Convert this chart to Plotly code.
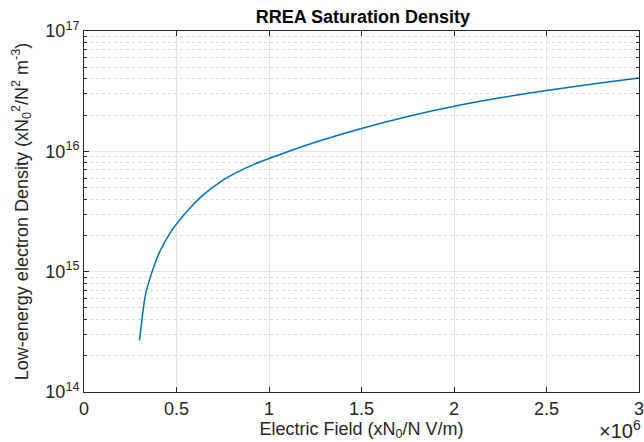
import plotly.graph_objects as go

# Data (electric field in V/m, density)
field = [0.300e6, 0.307e6, 0.330e6, 0.366e6, 0.411e6, 0.474e6, 0.556e6, 0.646e6,
         0.736e6, 0.826e6, 0.916e6, 1.000e6, 1.250e6, 1.500e6, 1.750e6, 2.000e6,
         2.250e6, 2.500e6, 2.750e6, 3.000e6]
density = [2.69e14, 3.31e14, 6.17e14, 9.77e14, 1.48e15, 2.19e15, 3.16e15, 4.37e15,
           5.56e15, 6.68e15, 7.76e15, 8.71e15, 1.19e16, 1.55e16, 1.95e16, 2.37e16,
           2.79e16, 3.20e16, 3.63e16, 4.07e16]

x_tickvals = [0, 0.5e6, 1.0e6, 1.5e6, 2.0e6, 2.5e6, 3.0e6]
x_ticktext = ["0", "0.5", "1", "1.5", "2", "2.5", "3"]
y_tickvals = [1e14, 1e15, 1e16, 1e17]
y_ticktext = ["10<sup>14</sup>", "10<sup>15</sup>", "10<sup>16</sup>", "10<sup>17</sup>"]
y_minor = [m * 10 ** e for e in (14, 15, 16) for m in range(2, 10)]

font_family = "Liberation Sans, Arial, sans-serif"
axis_color = "#262626"

fig = go.Figure()
fig.add_trace(go.Scatter(x=field, y=density, mode="lines",
                         line=dict(color="#0072BD", width=1.5, shape="spline", smoothing=0.6),
                         showlegend=False, hoverinfo="skip"))

fig.update_layout(
    width=644, height=442,
    margin=dict(l=84, r=5, t=31, b=50),
    paper_bgcolor="white", plot_bgcolor="white",
    font=dict(family=font_family, size=17, color=axis_color),
    title=dict(text="<b>RREA Saturation Density</b>", x=0.5635, xanchor="center",
               y=0.962, yanchor="middle", font=dict(size=18, color="black")),
)

fig.update_xaxes(
    range=[0, 3e6], tickmode="array", tickvals=x_tickvals, ticktext=x_ticktext,
    showgrid=True, gridcolor="#e3e3e3", gridwidth=1,
    ticks="inside", ticklen=5, tickcolor=axis_color,
    showline=True, linecolor=axis_color, linewidth=1, mirror="ticks",
    zeroline=False, automargin=False, ticklabeloverflow="allow",
    tickfont=dict(size=18, color=axis_color),
    title=dict(text="Electric Field (xN<sub>0</sub>/N V/m)", standoff=3,
               font=dict(size=18, color=axis_color)),
)
fig.update_yaxes(
    type="log", range=[14, 17], tickmode="array", tickvals=y_tickvals, ticktext=y_ticktext,
    showgrid=True, gridcolor="#e3e3e3", gridwidth=1,
    ticks="inside", ticklen=5, tickcolor=axis_color,
    showline=True, linecolor=axis_color, linewidth=1, mirror="ticks",
    zeroline=False, automargin=False, ticklabeloverflow="allow",
    tickfont=dict(size=18, color=axis_color),
    minor=dict(tickmode="array", tickvals=y_minor, ticks="inside", ticklen=3,
               tickcolor=axis_color, showgrid=True, gridcolor="#d9d9d9",
               griddash="dot", gridwidth=1),
    title=dict(text="Low-energy electron Density (xN<sub>0</sub><sup>2</sup>/N<sup>2</sup> m<sup>-3</sup>)",
               standoff=12, font=dict(size=18, color=axis_color)),
)

fig.add_annotation(text="\u00d710<sup>6</sup>", xref="paper", yref="paper",
                   x=1.008, y=-0.104, xanchor="right", yanchor="middle", showarrow=False,
                   font=dict(size=20, color=axis_color))

fig.write_html("out.html")
